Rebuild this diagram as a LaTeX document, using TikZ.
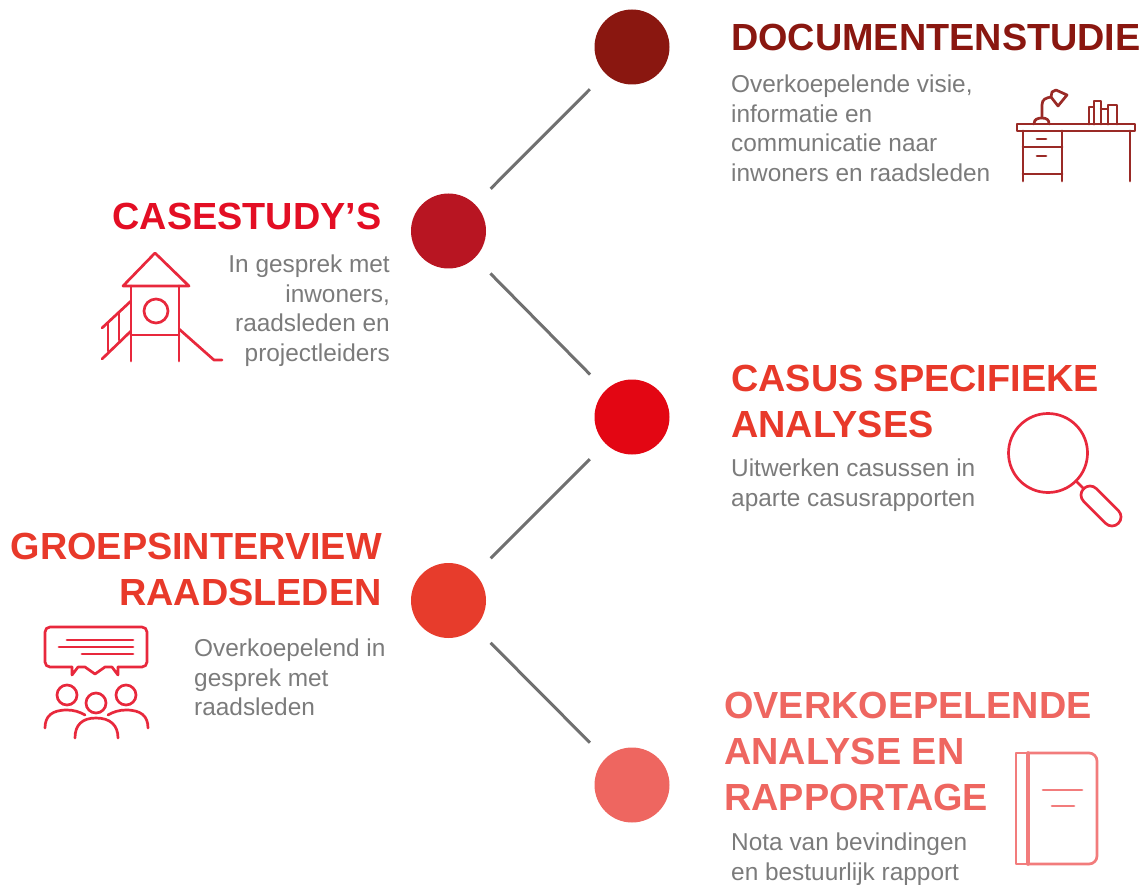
\documentclass[tikz,border=0pt]{standalone}
\usepackage{fontspec}
\setmainfont{Liberation Sans}
\definecolor{cA}{HTML}{8A1710}
\definecolor{cB}{HTML}{B81522}
\definecolor{cC}{HTML}{E30613}
\definecolor{cD}{HTML}{E73C2C}
\definecolor{cE}{HTML}{EE6660}
\definecolor{tB}{HTML}{E30E24}
\definecolor{tD}{HTML}{E8392A}
\definecolor{iA}{HTML}{9A2A26}
\definecolor{iB}{HTML}{E8283C}
\definecolor{iE}{HTML}{F27C7C}
\definecolor{body}{HTML}{7B7B7B}
\definecolor{link}{HTML}{707070}
\tikzset{
  dot/.style={circle,inner sep=0pt,minimum size=75pt},
  conn/.style={link,line width=3pt,shorten <=22pt,shorten >=22pt},
  head/.style={font=\fontsize{37.8}{46}\selectfont\bfseries,inner sep=0pt},
  txt/.style={body,font=\fontsize{24.4}{29.5}\selectfont,inner sep=0pt},
  ico/.style={line width=2.7pt,line cap=round,line join=round},
}
\begin{document}
\begin{tikzpicture}[x=1pt,y=-1pt]
\useasboundingbox (0,0) rectangle (1145,885);
\node[dot,fill=cA] (n1) at (632,47) {};
\node[dot,fill=cB] (n2) at (448.5,231) {};
\node[dot,fill=cC] (n3) at (632,417) {};
\node[dot,fill=cD] (n4) at (448.5,600.5) {};
\node[dot,fill=cE] (n5) at (632,785) {};
\draw[conn] (n1) -- (n2);
\draw[conn] (n2) -- (n3);
\draw[conn] (n3) -- (n4);
\draw[conn] (n4) -- (n5);

\node[head,anchor=base west,align=left,cA] (h1) at (731,51) {DOCUMENTENSTUDIE};
\node[txt,anchor=north west,align=left] (t1) at (731,75) {Overkoepelende visie,\\informatie en\\communicatie naar\\inwoners en raadsleden};
\node[head,anchor=base east,align=right,tB] (h2) at (381.5,230) {CASESTUDY’S};
\node[txt,anchor=north east,align=right] (t2) at (390,255) {In gesprek met\\inwoners,\\raadsleden en\\projectleiders};
\node[head,anchor=north west,align=left,tD] (h3) at (731,365) {CASUS SPECIFIEKE\\ANALYSES};
\node[txt,anchor=north west,align=left] (t3) at (731,459) {Uitwerken casussen in\\aparte casusrapporten};
\node[head,anchor=north east,align=right,tD] (h4) at (382,533) {GROEPSINTERVIEW\\RAADSLEDEN};
\node[txt,anchor=north west,align=left] (t4) at (194,639) {Overkoepelend in\\gesprek met\\raadsleden};
\node[head,anchor=north west,align=left,cE] (h5) at (724,691.5) {OVERKOEPELENDE\\ANALYSE EN\\RAPPORTAGE};
\node[txt,anchor=north west,align=left] (t5) at (731,833) {Nota van bevindingen\\en bestuurlijk rapport};

% desk
\begin{scope}[ico,iA]
\draw (1017,124) rectangle (1135,131);
\draw (1023,131) -- (1023,181) (1062,131) -- (1062,181) (1130,131) -- (1130,181);
\draw (1023,147) -- (1062,147) (1023,174) -- (1062,174);
\draw (1037,139) -- (1046,139) (1037,156) -- (1046,156);
\draw (1034,124) .. controls (1034,119) and (1038,118) .. (1042,118) .. controls (1047,118) and (1049,120) .. (1049,124);
\draw (1042,118) -- (1042,105) .. controls (1042,99) and (1046,98) .. (1051,97);
\draw (1052,92) -- (1056,90) -- (1067,95) -- (1058,106) -- (1051,97) -- cycle;
\draw (1089,124) -- (1089,107) -- (1094,107) -- (1094,124);
\draw (1094,124) -- (1094,101) -- (1101,101) -- (1101,124);
\draw (1101,109) -- (1108,109) -- (1108,124);
\draw (1108,124) -- (1108,105) -- (1117,105) -- (1117,124);
\end{scope}
% playground tower
\begin{scope}[ico,iB]
\draw (155,253) -- (189,286) -- (123,286) -- cycle;
\draw (131,286) -- (131,361) (179,286) -- (179,361);
\draw (131,335) -- (179,335);
\draw (156,311) circle (12);
\draw (102,328) -- (131,301) (102,359) -- (131,331);
\draw (108,323) -- (108,351) (119,312) -- (119,340);
\draw (179,329) -- (214,360) -- (222,360);
\end{scope}
% magnifier
\begin{scope}[ico,iB]
\draw (1048,453) circle (39.5);
\draw (1077,482) -- (1084,489);
\draw[rotate around={-45:(1101,506)},rounded corners=8.9pt] (1076.5,497) rectangle (1125.5,515);
\end{scope}
% group
\begin{scope}[ico,iB]
\draw[rounded corners=5pt] (72,667) -- (45,667) -- (45,627) -- (147,627) -- (147,667) -- (118,667);
\draw (72,667) -- (72,675) -- (78,667) -- (85,667) -- (95,674) -- (105,667) -- (112,667) -- (118,675) -- (118,667);
\draw (67,640) -- (133,640) (59,647) -- (133,647) (82,654) -- (133,654);
\draw (67,695) circle (10) (126,695) circle (10) (96,703) circle (10);
\draw (45,728) .. controls (45,716) and (52,710) .. (67,710) .. controls (74,710) and (80,712) .. (85,715);
\draw (148,728) .. controls (148,716) and (141,710) .. (126,710) .. controls (119,710) and (113,712) .. (108,715);
\draw (75,738) .. controls (75,725) and (82,718) .. (96,718) .. controls (110,718) and (118,725) .. (118,738);
\end{scope}
% book
\begin{scope}[ico,iE]
\draw[rounded corners=8pt] (1028,753) -- (1097,753) -- (1097,864) -- (1028,864);
\draw (1028,753) -- (1016,753) -- (1016,864) -- (1028,864);
\draw[line width=3.6pt] (1028,753) -- (1028,864);
\draw (1043,790) -- (1082,790) (1052,806) -- (1074,806);
\end{scope}
\end{tikzpicture}
\end{document}
